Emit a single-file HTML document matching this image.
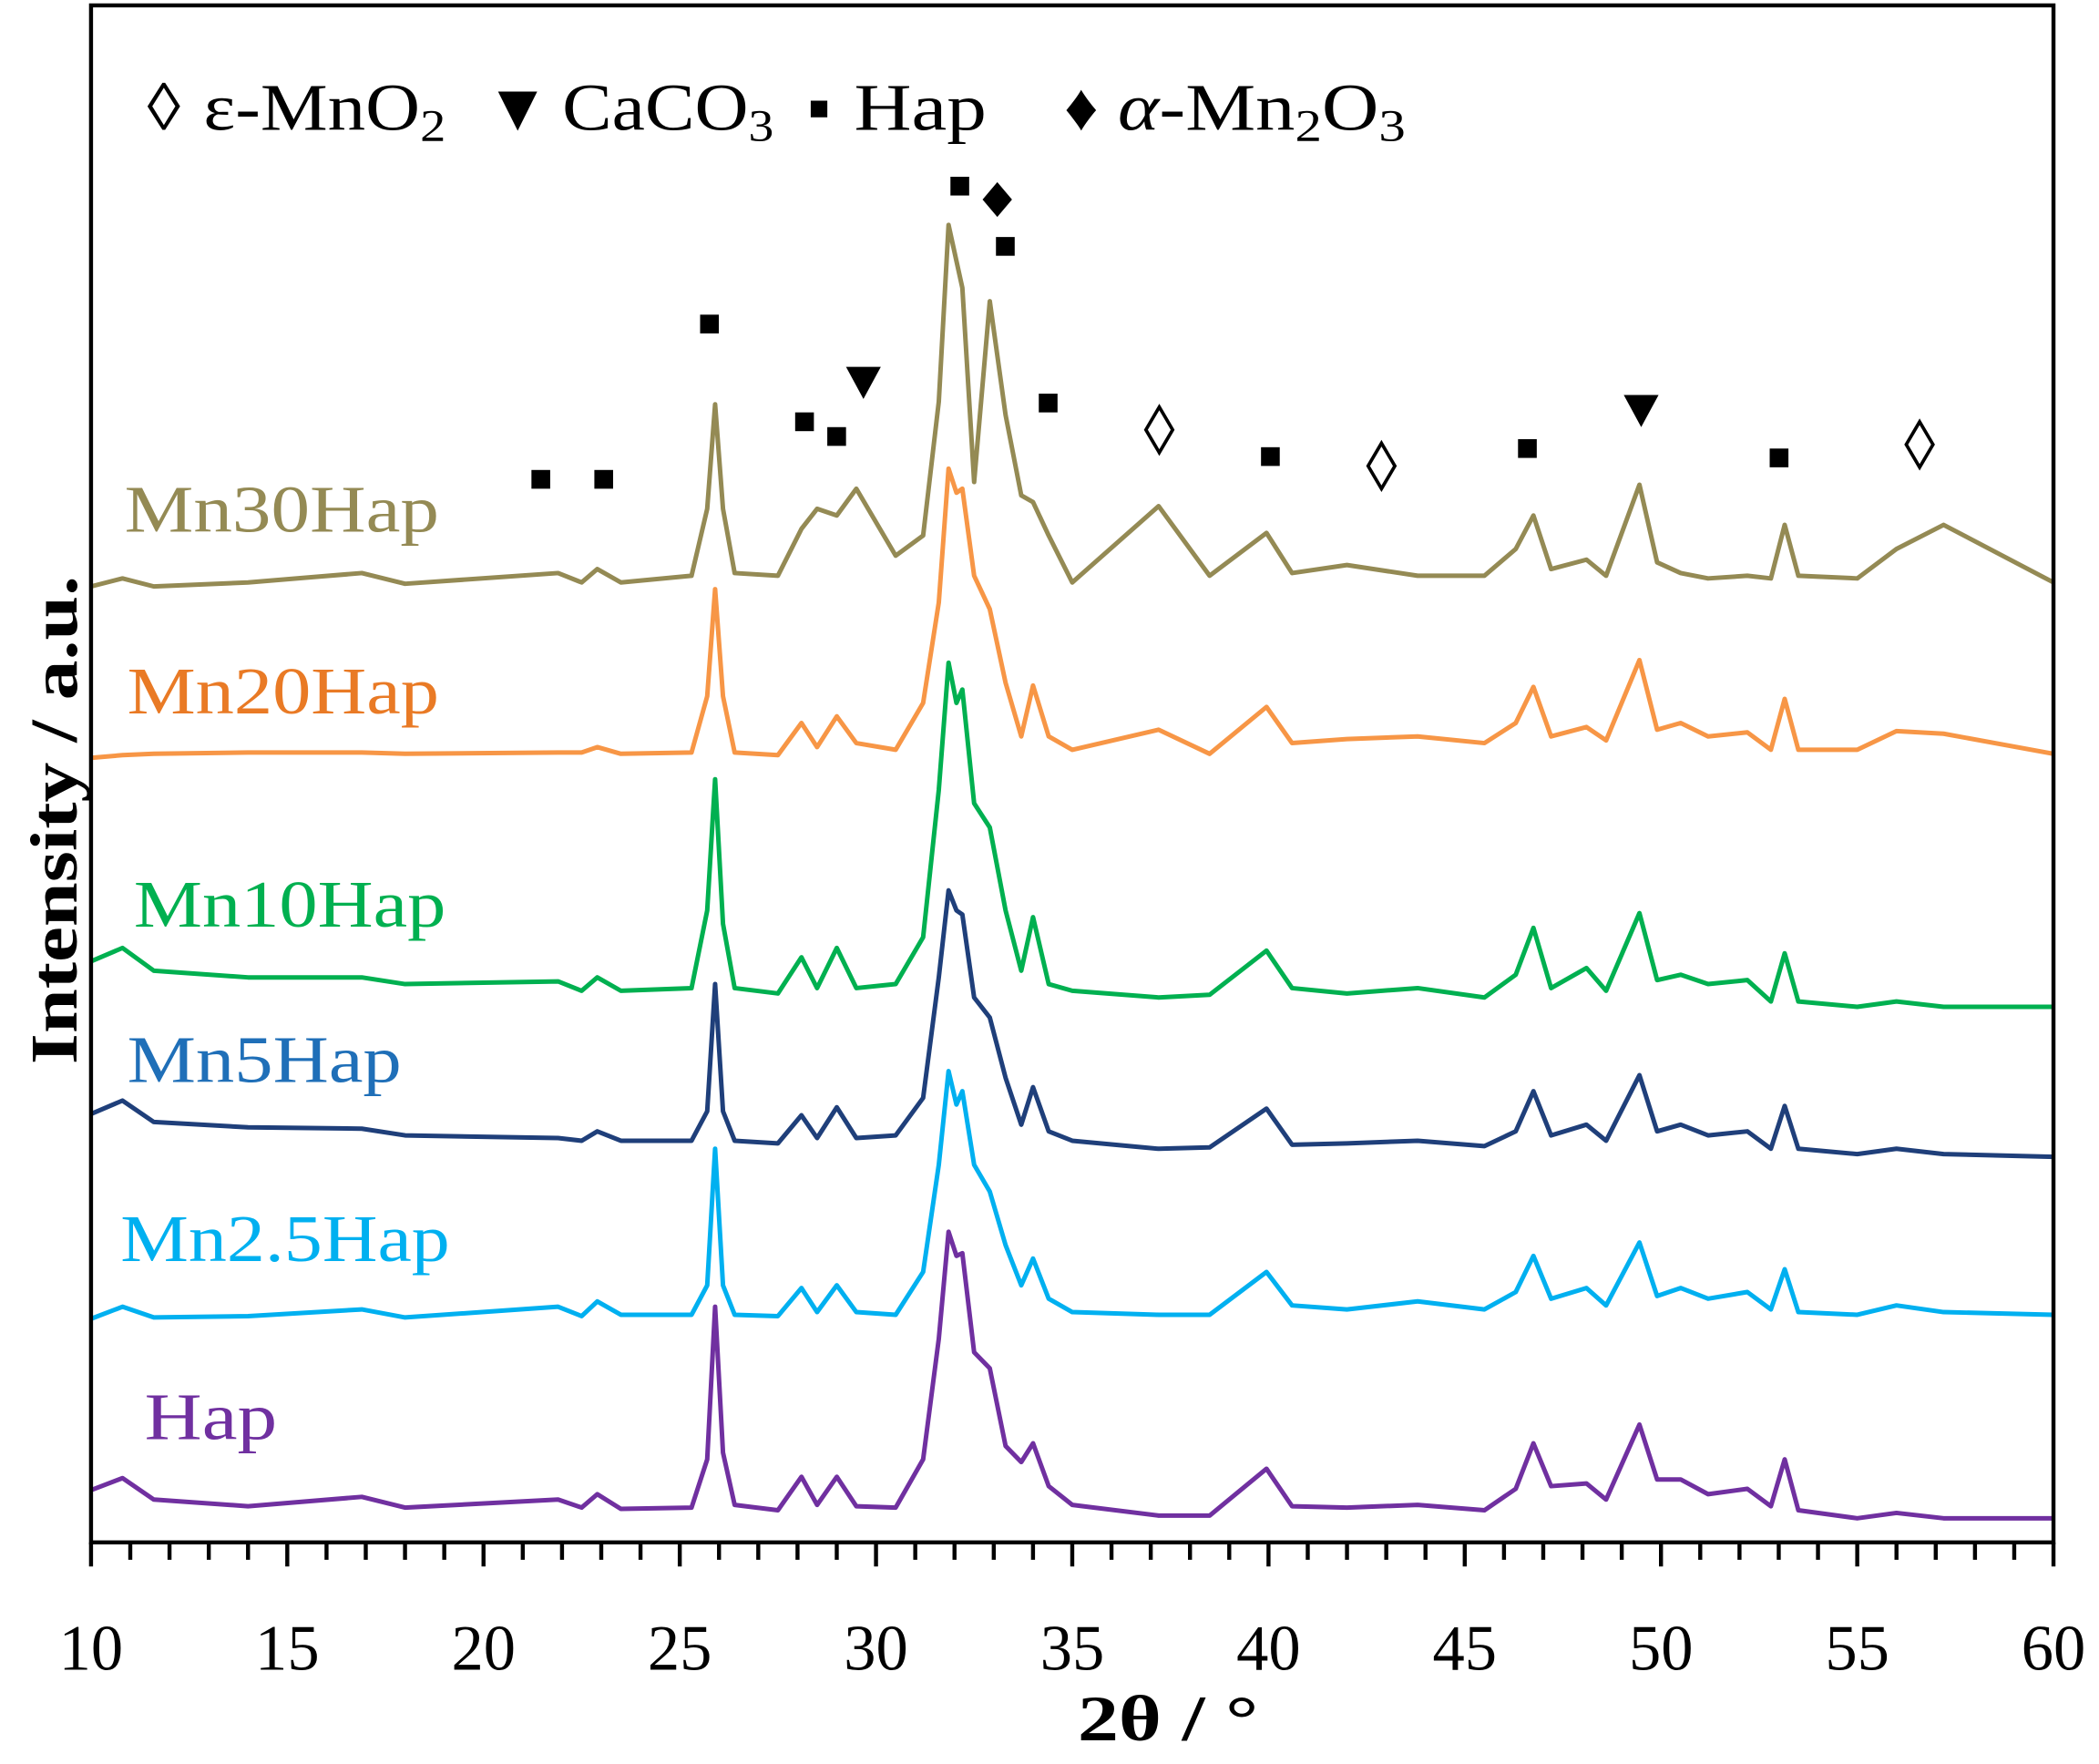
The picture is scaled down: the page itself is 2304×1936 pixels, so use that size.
<!DOCTYPE html>
<html><head><meta charset="utf-8"><style>
html,body{margin:0;padding:0;background:#fff;}
svg{display:block;}
text{font-family:"Liberation Serif",serif;}
</style></head><body>
<svg id="chart" width="2304" height="1936" viewBox="0 0 1568 1317.5" xmlns="http://www.w3.org/2000/svg">
<rect x="0" y="0" width="1568" height="1318" fill="#fff"/>
<g id="series"></g>
<g id="ticks"></g>
<rect x="68" y="4" width="1466" height="1148" fill="none" stroke="#000" stroke-width="3"/>
<g font-size="50" fill="#000">
<text x="110" y="97">◊</text>
<text x="152" y="97" textLength="181" lengthAdjust="spacingAndGlyphs">ε-MnO<tspan font-size="34" dy="8">2</tspan></text>
<text x="362" y="97">▼</text>
<text x="420" y="97" textLength="158" lengthAdjust="spacingAndGlyphs">CaCO<tspan font-size="34" dy="8">3</tspan></text>
<text x="603" y="97">▪</text>
<text x="638" y="97" textLength="99" lengthAdjust="spacingAndGlyphs">Hap</text>
<text x="795" y="97">♦</text>
<text x="835" y="97" textLength="215" lengthAdjust="spacingAndGlyphs"><tspan font-style="italic">α</tspan>-Mn<tspan font-size="34" dy="8">2</tspan><tspan dy="-8">O</tspan><tspan font-size="34" dy="8">3</tspan></text>
</g>
<g id="markers"></g>
<g font-size="50">
<text x="93" y="397" fill="#948A54" textLength="235" lengthAdjust="spacingAndGlyphs">Mn30Hap</text>
<text x="95" y="533" fill="#E97A25" textLength="233" lengthAdjust="spacingAndGlyphs">Mn20Hap</text>
<text x="100" y="692" fill="#00B050" textLength="233" lengthAdjust="spacingAndGlyphs">Mn10Hap</text>
<text x="95" y="808" fill="#1F6FB8" textLength="205" lengthAdjust="spacingAndGlyphs">Mn5Hap</text>
<text x="90" y="942" fill="#00B0F0" textLength="246" lengthAdjust="spacingAndGlyphs">Mn2.5Hap</text>
<text x="108" y="1075" fill="#7030A0" textLength="99" lengthAdjust="spacingAndGlyphs">Hap</text>
</g>
<text x="805" y="1300" font-size="48" font-weight="bold" textLength="135" lengthAdjust="spacingAndGlyphs">2θ / °</text>
<text transform="translate(57,795) rotate(-90)" font-size="50" font-weight="bold" textLength="365" lengthAdjust="spacingAndGlyphs">Intensity / a.u.</text>
</svg>
<script>
const twoTheta=[10,10.8,11.6,14,16.9,18,21.9,22.5,22.9,23.5,25.3,25.7,25.9,26.1,26.4,27.5,28.1,28.5,29.0,29.5,30.5,31.2,31.6,31.85,32.05,32.2,32.5,32.9,33.3,33.7,34.0,34.4,35,37.2,38.5,39.95,40.6,42,43.8,45.5,46.3,46.75,47.2,48.1,48.6,49.45,49.9,50.5,51.2,52.2,52.8,53.15,53.5,55,56,57.2,60];
const hap=[39,48,32,27,34,26,32,26,36,25,26,62,176,67,28,24,49,28,49,27,26,62,152,232,214,216,142,130,72,60,74,42,28,20,20,55,27,26,28,24,40,74,42,44,32,88,47,47,36,40,27,62,24,18,22,18,18];
const mn25=[167,176,168,169,174,168,176,169,180,170,170,192,294,192,170,169,190,172,192,172,170,202,282,352,327,337,282,262,222,192,212,182,172,170,170,202,177,174,180,174,187,214,182,190,177,224,184,190,182,187,174,204,172,170,177,172,170];
const mn5=[320,330,314,310,309,304,302,300,307,300,300,322,417,322,300,298,319,302,325,302,304,332,422,487,472,469,407,392,347,312,340,307,300,294,295,324,297,298,300,296,307,337,304,312,300,349,307,312,304,307,294,326,294,290,294,290,288];
const mn10=[434,444,427,422,422,417,419,412,422,412,414,472,570,462,414,410,437,414,444,414,417,452,562,657,627,637,552,534,472,427,467,417,412,407,409,442,414,410,414,407,424,459,414,429,412,470,420,424,417,420,404,440,404,400,404,400,400];
const mn20=[586,588,589,590,590,589,590,590,594,589,590,632,712,632,590,588,612,594,617,597,592,627,702,802,784,787,722,697,642,602,640,602,592,607,589,624,597,600,602,597,612,639,602,609,599,659,607,612,602,605,592,630,592,592,606,604,589];
const mn30=[714,720,714,717,724,716,724,717,727,717,722,772,850,772,724,722,757,772,767,787,737,752,852,984,957,937,792,927,842,782,777,752,717,774,722,754,724,730,722,722,742,767,727,734,722,790,732,724,720,722,720,760,722,720,742,760,717];
const xTicks=[10,15,20,25,30,35,40,45,50,55,60];
const NS="http://www.w3.org/2000/svg";
function xs(v){return 68+(v-10)/50*1466;}
function ys(v){return 1152-v;}
const sg=document.getElementById('series');
function draw(arr,color,name){
  const p=document.createElementNS(NS,'polyline');
  p.setAttribute('points',arr.map((v,i)=>xs(twoTheta[i]).toFixed(1)+','+ys(v).toFixed(1)).join(' '));
  p.setAttribute('fill','none');p.setAttribute('stroke',color);p.setAttribute('stroke-width','3.4');
  p.setAttribute('stroke-linejoin','round');
  
  
  sg.appendChild(p);
}
draw(hap,'#7030A0','series-hap');
draw(mn25,'#00B0F0','series-mn2.5hap');
draw(mn5,'#1F3F7A','series-mn5hap');
draw(mn10,'#00B050','series-mn10hap');
draw(mn20,'#F79646','series-mn20hap');
draw(mn30,'#948A54','series-mn30hap');
const tg=document.getElementById('ticks');
for(let d=10;d<=60;d++){
  const l=document.createElementNS(NS,'line');
  const major=d%5===0;
  l.setAttribute('x1',xs(d));l.setAttribute('x2',xs(d));
  l.setAttribute('y1',1152);l.setAttribute('y2',major?1170:1165);
  l.setAttribute('stroke','#000');l.setAttribute('stroke-width','3');
  
  
  tg.appendChild(l);
}
xTicks.forEach(v=>{
  const t=document.createElementNS(NS,'text');
  t.setAttribute('x',xs(v));t.setAttribute('y',1247);
  t.setAttribute('font-size','48');t.setAttribute('text-anchor','middle');
  t.textContent=v;
  
  
  tg.appendChild(t);
});
const mg=document.getElementById('markers');
const squares=[[404,358],[451,358],[530,242],[601,315],[625,326],[717,139],[751,184],[783,301],[949,341],[1141,335],[1329,342]];
squares.forEach(s=>{
  const r=document.createElementNS(NS,'rect');
  r.setAttribute('x',s[0]-7);r.setAttribute('y',s[1]-7);r.setAttribute('width',14);r.setAttribute('height',14);
  r.setAttribute('fill','#000');
  
  
  mg.appendChild(r);
});
[[645,285],[1226,306]].forEach(s=>{
  const p=document.createElementNS(NS,'polygon');
  p.setAttribute('points',`${s[0]-13},${s[1]-11} ${s[0]+13},${s[1]-11} ${s[0]},${s[1]+13}`);
  p.setAttribute('fill','#000');
  
  
  mg.appendChild(p);
});
[[866,321],[1032,348],[1434,332]].forEach(s=>{
  const p=document.createElementNS(NS,'polygon');
  p.setAttribute('points',`${s[0]},${s[1]-17} ${s[0]+10},${s[1]} ${s[0]},${s[1]+17} ${s[0]-10},${s[1]}`);
  p.setAttribute('fill','none');p.setAttribute('stroke','#000');p.setAttribute('stroke-width','2.5');
  
  
  mg.appendChild(p);
});
(function(){
  const s=[745,149];
  const p=document.createElementNS(NS,'polygon');
  p.setAttribute('points',`${s[0]},${s[1]-13} ${s[0]+11},${s[1]} ${s[0]},${s[1]+13} ${s[0]-11},${s[1]}`);
  p.setAttribute('fill','#000');
  
  
  mg.appendChild(p);
})();
</script>
</body></html>
